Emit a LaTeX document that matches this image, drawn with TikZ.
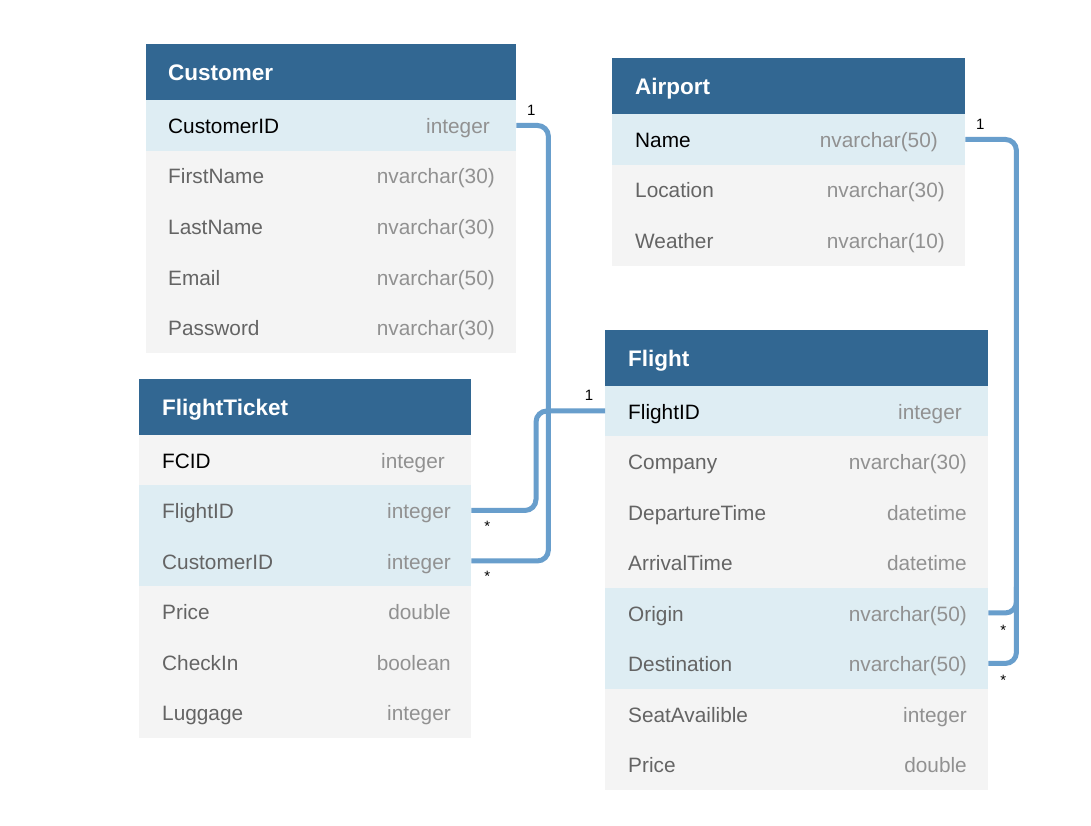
\documentclass[tikz,border=0pt]{standalone}
\usepackage{fontspec}
\setmainfont{Liberation Sans}
\usetikzlibrary{calc}
\definecolor{hdrblue}{RGB}{50,103,146}
\definecolor{keyblue}{RGB}{222,237,243}
\definecolor{rowgray}{RGB}{244,244,244}
\definecolor{namegray}{RGB}{100,100,100}
\definecolor{typegray}{RGB}{145,145,145}
\definecolor{linkblue}{RGB}{104,158,204}

\begin{document}
\begin{tikzpicture}[x=1pt, y=-1pt,
	header/.style={fill=hdrblue, anchor=north west, inner sep=0pt, minimum height=56pt},
	row/.style={anchor=north west, inner sep=0pt, minimum height=50.5pt},
	title/.style={anchor=base west, inner sep=0pt, text=white, font=\fontsize{22.5}{26}\selectfont\bfseries},
	fname/.style={anchor=base west, inner sep=0pt, font=\fontsize{20.8}{24}\selectfont},
	ftype/.style={anchor=base east, inner sep=0pt, text=typegray, font=\fontsize{20.8}{24}\selectfont},
	link/.style={linkblue, line width=5pt, rounded corners=11pt},
	card/.style={anchor=base, inner sep=0pt, font=\fontsize{15}{17}\selectfont}]
	\useasboundingbox[fill=white] (0,0) rectangle (1091,826);

	% Customer
	\node[header, minimum width=370pt] (cust) at (146,44) {};
	\node[title] at (168,81) {Customer};
	\foreach \k/\f/\t/\bg/\fg/\e [count=\i from 0] in {
		id/CustomerID/integer/keyblue/black/490,
		first/FirstName/nvarchar(30)/rowgray/namegray/495,
		last/LastName/nvarchar(30)/rowgray/namegray/495,
		mail/Email/nvarchar(50)/rowgray/namegray/495,
		pass/Password/nvarchar(30)/rowgray/namegray/495}
	{
		\node[row, fill=\bg, minimum width=370pt] (cust-\k) at (146,100+50.5*\i) {};
		\node[fname, text=\fg] at (168,133.5+50.5*\i) {\f};
		\node[ftype] at (\e,133.5+50.5*\i) {\t};
	}

	% Airport
	\node[header, minimum width=353pt] (ap) at (612,58) {};
	\node[title] at (635,95) {Airport};
	\foreach \k/\f/\t/\bg/\fg/\e [count=\i from 0] in {
		name/Name/nvarchar(50)/keyblue/black/938,
		loc/Location/nvarchar(30)/rowgray/namegray/945,
		wea/Weather/nvarchar(10)/rowgray/namegray/945}
	{
		\node[row, fill=\bg, minimum width=353pt] (ap-\k) at (612,114+50.5*\i) {};
		\node[fname, text=\fg] at (635,147.5+50.5*\i) {\f};
		\node[ftype] at (\e,147.5+50.5*\i) {\t};
	}

	% FlightTicket
	\node[header, minimum width=332pt] (tick) at (139,378.5) {};
	\node[title] at (162,415) {FlightTicket};
	\foreach \k/\f/\t/\bg/\fg/\e [count=\i from 0] in {
		id/FCID/integer/rowgray/black/445,
		fl/FlightID/integer/keyblue/namegray/451,
		cust/CustomerID/integer/keyblue/namegray/451,
		price/Price/double/rowgray/namegray/451,
		check/CheckIn/boolean/rowgray/namegray/451,
		lug/Luggage/integer/rowgray/namegray/451}
	{
		\node[row, fill=\bg, minimum width=332pt] (tick-\k) at (139,434.5+50.5*\i) {};
		\node[fname, text=\fg] at (162,468+50.5*\i) {\f};
		\node[ftype] at (\e,468+50.5*\i) {\t};
	}

	% Flight
	\node[header, minimum width=383pt] (fl) at (605,329.5) {};
	\node[title] at (628,366) {Flight};
	\foreach \k/\f/\t/\bg/\fg/\e [count=\i from 0] in {
		id/FlightID/integer/keyblue/black/962,
		comp/Company/nvarchar(30)/rowgray/namegray/967,
		dep/DepartureTime/datetime/rowgray/namegray/967,
		arr/ArrivalTime/datetime/rowgray/namegray/967,
		orig/Origin/nvarchar(50)/keyblue/namegray/967,
		dest/Destination/nvarchar(50)/keyblue/namegray/967,
		seat/SeatAvailible/integer/rowgray/namegray/967,
		price/Price/double/rowgray/namegray/967}
	{
		\node[row, fill=\bg, minimum width=383pt] (fl-\k) at (605,385.5+50.5*\i) {};
		\node[fname, text=\fg] at (628,419+50.5*\i) {\f};
		\node[ftype] at (\e,419+50.5*\i) {\t};
	}

	% Relations
	\draw[link] (cust-id.east) -- ++(32,0) |- (tick-cust.east);
	\draw[link] (fl-id.west) -- ++(-69,0) |- (tick-fl.east);
	\draw[link] (ap-name.east) -- ++(51,0) |- (fl-dest.east);
	\draw[link] (fl-orig.east) -| ++(28,-26);

	% Cardinalities
	\node[card] at ($(cust-id.east)+(15,-10)$) {1};
	\node[card] at ($(fl-id.west)+(-16,-10.5)$) {1};
	\node[card] at ($(ap-name.east)+(15,-10)$) {1};
	\node[card] at ($(tick-fl.east)+(16,21.5)$) {*};
	\node[card] at ($(tick-cust.east)+(16,21)$) {*};
	\node[card] at ($(fl-orig.east)+(15,22.5)$) {*};
	\node[card] at ($(fl-dest.east)+(15,22.5)$) {*};
\end{tikzpicture}
\end{document}
